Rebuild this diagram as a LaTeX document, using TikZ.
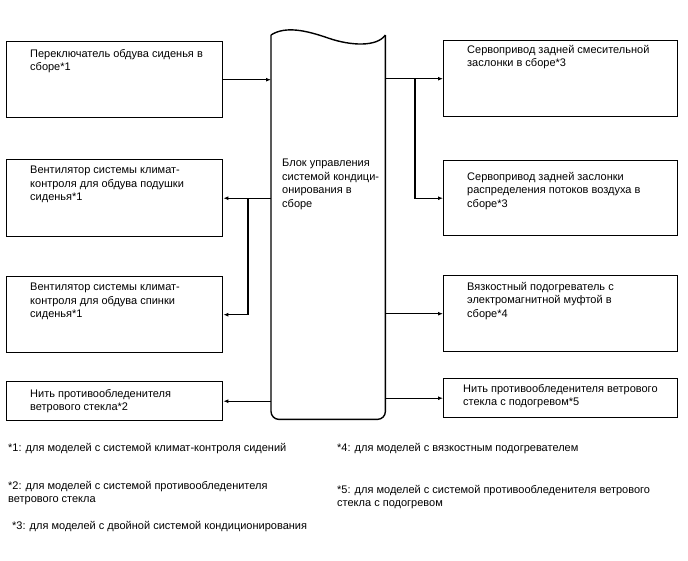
\documentclass[tikz,border=0pt]{standalone}
\usepackage{fontspec}
\setmainfont{Liberation Sans}
\usetikzlibrary{positioning,arrows.meta,calc}

\begin{document}
\begin{tikzpicture}[x=1pt, y=-1pt,
        unit/.style={draw, line width=1.4pt, minimum width=216pt, inner sep=0pt, anchor=north west},
        txt/.style={inner sep=0pt, anchor=north west, align=left, font=\fontsize{11}{13.5}\selectfont},
        arrow/.style={-{Latex[length=5pt,width=4pt]}, line width=1.4pt}
    ]
        \useasboundingbox (0,0) rectangle (688,560);

        % left column
        \node[unit, minimum height=76pt] (switch) at (6,41) {};
        \node[unit, minimum height=77pt] (cushion) at (6,159) {};
        \node[unit, minimum height=76pt] (back) at (6,276) {};
        \node[unit, minimum height=39pt] (deicer) at (6,381) {};

        \node[txt] (switch-t) at ([shift={(24,8)}]switch.north west) {Переключатель обдува сиденья в\\сборе*1};
        \node[txt] (cushion-t) at ([shift={(24,7)}]cushion.north west) {Вентилятор системы климат-\\контроля для обдува подушки\\сиденья*1};
        \node[txt] (back-t) at ([shift={(24,7)}]back.north west) {Вентилятор системы климат-\\контроля для обдува спинки\\сиденья*1};
        \node[txt] (deicer-t) at ([shift={(24,8)}]deicer.north west) {Нить противообледенителя\\ветрового стекла*2};

        % right column
        \node[unit, minimum width=234pt, minimum height=76pt] (mix) at (443,40) {};
        \node[unit, minimum width=234pt, minimum height=75pt] (distr) at (443,160) {};
        \node[unit, minimum width=234pt, minimum height=76pt] (viscous) at (443,275) {};
        \node[unit, minimum width=234pt, minimum height=39pt] (glass) at (443,378) {};

        \node[txt] (mix-t) at ([shift={(24,5)}]mix.north west) {Сервопривод задней смесительной\\заслонки в сборе*3};
        \node[txt] (distr-t) at ([shift={(24,12)}]distr.north west) {Сервопривод задней заслонки\\распределения потоков воздуха в\\сборе*3};
        \node[txt] (viscous-t) at ([shift={(24,7)}]viscous.north west) {Вязкостный подогреватель с\\электромагнитной муфтой в\\сборе*4};
        \node[txt] (glass-t) at ([shift={(20,6)}]glass.north west) {Нить противообледенителя ветрового\\стекла с подогревом*5};

        % control unit
        \node[minimum width=114pt, minimum height=384pt, inner sep=0pt, anchor=north west] (ecu) at (271,35) {};
        \draw[line width=1.4pt, rounded corners=8pt] (ecu.north west) -- (ecu.south west) -- (ecu.south east) -- (ecu.north east);
        \draw[line width=1.4pt] (ecu.north west) .. controls (285,26) and (305,30) .. (328,38)
            .. controls (351,46) and (377,47) .. (ecu.north east);
        \node[txt] (ecu-t) at (282,159) {Блок управления\\системой кондици-\\онирования в\\сборе};

        \coordinate (lj) at (248,0);
        \coordinate (rj) at (415,0);

        \draw[arrow] (switch.east) -- (switch.east -| ecu.west);
        \draw[arrow] (ecu.west |- cushion.east) -- (cushion.east);
        \draw[arrow] (lj |- cushion.east) -- (lj |- back.east) -- (back.east);
        \draw[arrow] (ecu.west |- deicer.east) -- (deicer.east);

        \draw[arrow] (ecu.east |- mix.west) -- (mix.west);
        \draw[arrow] (rj |- mix.west) -- (rj |- distr.west) -- (distr.west);
        \draw[arrow] (ecu.east |- viscous.west) -- (viscous.west);
        \draw[arrow] (ecu.east |- glass.west) -- (glass.west);

        % notes
        \node[txt] (n1) at (8,443) {*1: для моделей с системой климат-контроля сидений};
        \node[txt] (n2) at (8,481) {*2: для моделей с системой противообледенителя\\ветрового стекла};
        \node[txt] (n3) at (12,521) {*3: для моделей с двойной системой кондиционирования};
        \node[txt] (n4) at (337,443) {*4: для моделей с вязкостным подогревателем};
        \node[txt] (n5) at (337,485) {*5: для моделей с системой противообледенителя ветрового\\стекла с подогревом};
    \end{tikzpicture}
\end{document}
